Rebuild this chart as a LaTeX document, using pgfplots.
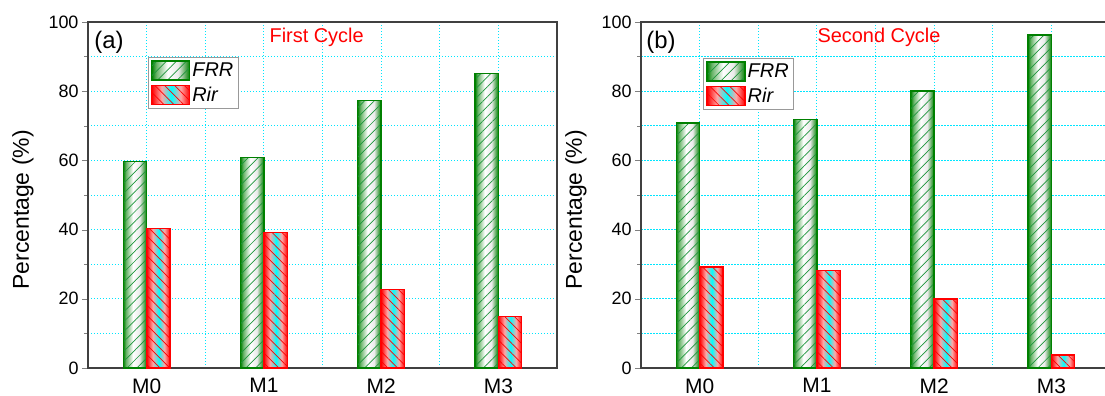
\documentclass[border=0pt]{standalone}
\usepackage{pgfplots}
\pgfplotsset{compat=1.18}
\usetikzlibrary{patterns.meta}
\usepackage{fontspec}
\setmainfont{Liberation Sans}
\definecolor{dgreen}{RGB}{0,128,0}
\definecolor{hatchg}{RGB}{30,150,60}
\definecolor{gridc}{RGB}{0,230,255}
% TikZ maps the path's box onto 25bp..75bp of a 100bp shading
\pgfdeclarehorizontalshading{frrsh}{100bp}{color(0bp)=(dgreen); color(25bp)=(dgreen); color(31bp)=(dgreen!60!white); color(46bp)=(white); color(60bp)=(black!8!white); color(75bp)=(dgreen); color(100bp)=(dgreen)}
\pgfdeclarehorizontalshading{rirsh}{100bp}{color(0bp)=(red); color(25bp)=(red); color(38bp)=(red!35!white); color(51bp)=(cyan); color(63bp)=(red!35!white); color(75bp)=(red); color(100bp)=(red)}
\tikzset{
  frrshade/.style={shade, shading=frrsh},
  rirshade/.style={shade, shading=rirsh},
  frrpat/.style={pattern={Lines[angle=45, distance=7bp, line width=0.7bp]}, pattern color=hatchg},
  rirpat/.style={pattern={Lines[angle=-45, distance=7bp, line width=0.7bp]}, pattern color=red},
}
\pgfplotsset{
  panel/.style={
    scale only axis, width=469bp, height=346bp,
    xmin=-0.5, xmax=3.5, ymin=0, ymax=100,
    xtick={0,1,2,3}, xticklabels={M0,M1,M2,M3},
    minor xtick={0.5,1.5,2.5},
    ytick={0,20,40,60,80,100}, minor ytick={10,30,50,70,90},
    grid=both,
    major grid style={gridc, dash pattern=on 1.5bp off 1.5bp, line width=0.8bp},
    minor grid style={gridc, dash pattern=on 1.5bp off 1.5bp, line width=0.8bp},
    axis line style={line width=1.4pt, black!75},
    xtick style={draw=none},
    ytick pos=left, tick align=outside,
    major tick length=6bp, minor tick length=4bp,
    /pgf/number format/assume math mode=true,
    yticklabel style={font=\fontsize{18}{20}\selectfont},
    xticklabel style={font=\fontsize{21}{23}\selectfont, yshift=-1bp},
    ylabel={Percentage (\%)},
    ylabel style={font=\fontsize{23}{25}\selectfont, at={(axis description cs:-0.1386,0.457)}, anchor=center},
    legend cell align=left,
    legend style={anchor=north west, draw=black!40, line width=1pt, fill=white,
      font=\fontsize{20}{22}\selectfont\itshape, inner sep=3bp, row sep=4bp,
      /tikz/every even column/.append style={column sep=2bp}},
  },
  frrbar/.style={ybar, bar width=0.2, bar shift=-0.1, draw=dgreen, line width=1.3pt, forget plot},
  rirbar/.style={ybar, bar width=0.2, bar shift=0.1, draw=red, line width=1.3pt, forget plot},
  frrleg/.style={legend image code/.code={
    \path[frrshade] (0bp,-9.5bp) rectangle (38bp,9.5bp);
    \path[frrpat] (0bp,-9.5bp) rectangle (38bp,9.5bp);
    \draw[dgreen, line width=1.3pt] (0bp,-9.5bp) rectangle (38bp,9.5bp);}},
  rirleg/.style={legend image code/.code={
    \path[rirshade] (0bp,-9.5bp) rectangle (38bp,9.5bp);
    \path[rirpat] (0bp,-9.5bp) rectangle (38bp,9.5bp);
    \draw[red, line width=1.3pt] (0bp,-9.5bp) rectangle (38bp,9.5bp);}},
}
% one FRR bar / one Rir bar: shaded body, then hatching
\newcommand\frr[2]{%
  \addplot[frrbar, frrshade] coordinates {(#1,#2)};
  \addplot[frrbar, frrpat] coordinates {(#1,#2)};}
\newcommand\rir[2]{%
  \addplot[rirbar, rirshade] coordinates {(#1,#2)};
  \addplot[rirbar, rirpat] coordinates {(#1,#2)};}
\begin{document}
\begin{tikzpicture}
\begin{axis}[panel, legend style={at={(0.127,0.899)}}]
\frr{0}{59.6} \frr{1}{60.9} \frr{2}{77.3} \frr{3}{85.1}
\rir{0}{40.4} \rir{1}{39.1} \rir{2}{22.7} \rir{3}{14.9}
\addlegendimage{frrleg}\addlegendentry{FRR}
\addlegendimage{rirleg}\addlegendentry{Rir}
\node[font=\fontsize{24}{26}\selectfont] at (axis cs:-0.32,94.2) {(a)};
\node[font=\fontsize{20}{22}\selectfont, text=red] at (axis cs:1.45,95.7) {First Cycle};
\end{axis}
\begin{axis}[panel, at={(553bp,0)}, legend style={at={(0.132,0.896)}}]
\frr{0}{70.8} \frr{1}{71.9} \frr{2}{80.1} \frr{3}{96.2}
\rir{0}{29.2} \rir{1}{28.1} \rir{2}{19.9} \rir{3}{3.8}
\addlegendimage{frrleg}\addlegendentry{FRR}
\addlegendimage{rirleg}\addlegendentry{Rir}
\node[font=\fontsize{24}{26}\selectfont] at (axis cs:-0.33,94.2) {(b)};
\node[font=\fontsize{20}{22}\selectfont, text=red] at (axis cs:1.53,95.7) {Second Cycle};
\end{axis}
\pgfresetboundingbox
\path (-88bp,-28bp) rectangle (1017bp,368bp);
\end{tikzpicture}
\end{document}
